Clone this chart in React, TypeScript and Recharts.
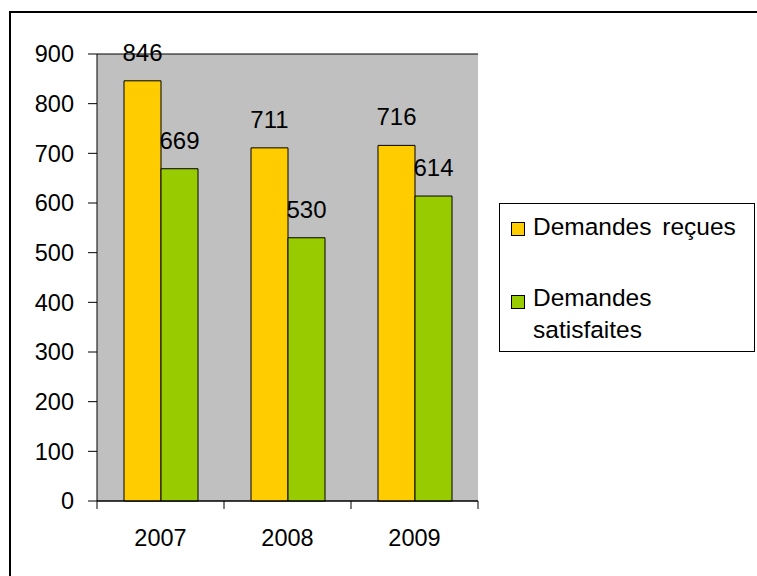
import React from 'react';
import { BarChart, Bar, XAxis, YAxis, CartesianGrid, LabelList, Legend } from 'recharts';

const categories = ['2007', '2008', '2009'];
const recues = [846, 711, 716];
const satisfaites = [669, 530, 614];
const yTicks = [0, 100, 200, 300, 400, 500, 600, 700, 800, 900];
const seriesNames = ['Demandes reçues', 'Demandes satisfaites'];
const seriesColors = ['#FFCC00', '#99CC00'];

const data = categories.map((c, i) => ({ year: c, recues: recues[i], satisfaites: satisfaites[i] }));

const FONT = '"Liberation Sans", Arial, sans-serif';
const W = 757;
const H = 576;
const margin = { top: 54, right: 279, bottom: 35, left: 27 };
const Y_AXIS_W = 70;
const X_AXIS_H = 40;
const TICK_SIZE = 8;
const TICK_MARGIN = 20;
const plotWidth = W - margin.left - margin.right - Y_AXIS_W;

const XTick = (props: any) => {
  const { x, y, payload, index } = props;
  const half = payload && typeof payload.offset === 'number' && payload.offset > 0
    ? payload.offset
    : plotWidth / categories.length / 2;
  const axisY = y - TICK_SIZE - TICK_MARGIN;
  return (
    <g>
      <line x1={x - half} y1={axisY} x2={x - half} y2={axisY + TICK_SIZE} stroke="#000" strokeWidth={1} />
      {index === categories.length - 1 && (
        <line x1={x + half} y1={axisY} x2={x + half} y2={axisY + TICK_SIZE} stroke="#000" strokeWidth={1} />
      )}
      <text x={x} y={y} dy="0.71em" textAnchor="middle" fontFamily={FONT} fontSize={23.5} fill="#000">
        {payload.value}
      </text>
    </g>
  );
};

const LegendBox = () => (
  <div
    style={{
      position: 'absolute',
      left: 0,
      top: 0,
      width: 256,
      height: 149,
      boxSizing: 'border-box',
      border: '1.5px solid #000',
      background: '#fff',
      fontFamily: FONT,
      fontSize: 24.5,
      color: '#000',
    }}
  >
    <div style={{ position: 'absolute', left: 11, top: 18, width: 12, height: 12, background: seriesColors[0], border: '1px solid #000' }} />
    <div style={{ position: 'absolute', left: 33, top: 7, lineHeight: '32px', whiteSpace: 'nowrap', wordSpacing: 4 }}>
      {seriesNames[0]}
    </div>
    <div style={{ position: 'absolute', left: 11, top: 91, width: 12, height: 12, background: seriesColors[1], border: '1px solid #000' }} />
    <div style={{ position: 'absolute', left: 33, top: 78, lineHeight: '32px', width: 200 }}>
      {seriesNames[1]}
    </div>
  </div>
);

export default function App() {
  return (
    <div style={{ position: 'absolute', left: 0, top: 0, width: W, height: H, overflow: 'hidden', background: '#fff' }}>
      <div
        style={{
          position: 'absolute',
          left: 9,
          top: 11,
          width: 800,
          height: 620,
          borderTop: '2px solid #000',
          borderLeft: '2px solid #000',
        }}
      />
      <div style={{ position: 'absolute', left: 0, top: 0 }}>
        <BarChart width={W} height={H} data={data} margin={margin} barGap={0}>
          <CartesianGrid horizontal vertical={false} stroke="#000" fill="#C0C0C0" fillOpacity={1} />
          <XAxis
            dataKey="year"
            xAxisId="b"
            height={X_AXIS_H}
            axisLine={{ stroke: '#000' }}
            tickLine={false}
            tickSize={TICK_SIZE}
            tickMargin={TICK_MARGIN}
            tick={<XTick />}
            interval={0}
          />
          <XAxis dataKey="year" xAxisId="t" orientation="top" height={0} tick={false} tickLine={false} axisLine={{ stroke: '#808080' }} />
          <YAxis
            yAxisId="l"
            width={Y_AXIS_W}
            domain={[0, 900]}
            ticks={yTicks}
            interval={0}
            axisLine={{ stroke: '#000' }}
            tickLine={{ stroke: '#000' }}
            tickSize={9}
            tickMargin={14}
            tick={{ fontFamily: FONT, fontSize: 23.5, fill: '#000' }}
          />
          <YAxis yAxisId="r" orientation="right" width={0} domain={[0, 900]} tick={false} tickLine={false} axisLine={{ stroke: '#808080' }} />
          <Legend
            layout="vertical"
            align="center"
            verticalAlign="top"
            content={<LegendBox />}
            wrapperStyle={{ position: 'absolute', left: 499, top: 203, width: 256, height: 0 }}
          />
          <Bar dataKey="recues" name={seriesNames[0]} xAxisId="b" yAxisId="l" fill={seriesColors[0]} stroke="#000" strokeWidth={1} barSize={37} isAnimationActive={false}>
            <LabelList dataKey="recues" position="top" offset={20} fill="#000" fontSize={24} fontFamily={FONT} />
          </Bar>
          <Bar dataKey="satisfaites" name={seriesNames[1]} xAxisId="b" yAxisId="l" fill={seriesColors[1]} stroke="#000" strokeWidth={1} barSize={37} isAnimationActive={false}>
            <LabelList dataKey="satisfaites" position="top" offset={20} fill="#000" fontSize={24} fontFamily={FONT} />
          </Bar>
        </BarChart>
      </div>
    </div>
  );
}
